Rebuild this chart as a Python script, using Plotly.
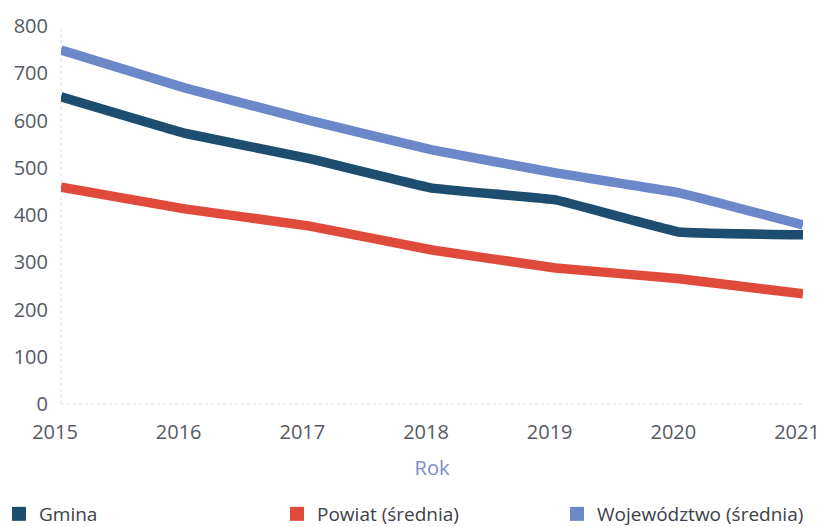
import plotly.graph_objects as go

years = [2015, 2016, 2017, 2018, 2019, 2020, 2021]
gmina = [650, 573, 520, 457, 432, 364, 358]
powiat = [459, 413, 377, 326, 288, 265, 233]
wojewodztwo = [749, 669, 601, 538, 489, 447, 379]
names = ["Gmina", "Powiat (średnia)", "Województwo (średnia)"]
colors = ["#1d4e6f", "#e04a3b", "#6c88c9"]
y_ticks = [0, 100, 200, 300, 400, 500, 600, 700, 800]

legend_ids = ["legend", "legend2", "legend3"]
legend_x_px = [-9, 269, 549]

W, H = 816, 519
ML, MR, MT, MB = 53, 21, 18, 123
pw = W - ML - MR
ph = H - MT - MB

fig = go.Figure()
for name, vals, col, lid in zip(names, [gmina, powiat, wojewodztwo], colors, legend_ids):
    fig.add_trace(go.Scatter(x=years, y=vals, mode="lines", name=name,
                             line=dict(color=col, width=9.5, shape="spline", smoothing=0.2),
                             showlegend=False, hoverinfo="skip"))
    fig.add_trace(go.Scatter(x=[None], y=[None], mode="markers", name=name,
                             marker=dict(symbol="square", size=14, color=col),
                             showlegend=True, legend=lid))

font = "Open Sans, Noto Sans, sans-serif"
legend_layout = {}
for lid, xp in zip(legend_ids, legend_x_px):
    legend_layout[lid] = dict(orientation="h", x=(xp - ML) / pw, xanchor="left",
                              y=(ph - (487 - MT)) / ph, yanchor="top",
                              font=dict(size=19, color="#3c4048"),
                              bgcolor="rgba(0,0,0,0)", itemwidth=30)

fig.update_layout(
    width=W, height=H,
    margin=dict(l=ML, r=MR, t=MT, b=MB, autoexpand=False),
    plot_bgcolor="white", paper_bgcolor="white",
    font=dict(family=font, size=18, color="#555a63"),
    xaxis=dict(range=[2015, 2021], tickvals=years, ticktext=[str(y) for y in years],
               showgrid=False, zeroline=False, showline=False, automargin=False,
               ticks="outside", ticklen=10, tickcolor="rgba(0,0,0,0)",
               ticklabeloverflow="allow", ticklabelshift=-6,
               tickfont=dict(size=20, color="#555a63"),
               title=dict(text="Rok", font=dict(size=20, color="#7b8dcc"), standoff=16)),
    yaxis=dict(range=[0, 800], tickvals=y_ticks, showgrid=False, zeroline=False,
               showline=False, automargin=False, tickfont=dict(size=20, color="#555a63"),
               ticks="outside", ticklen=8, tickcolor="rgba(0,0,0,0)"),
    shapes=[
        dict(type="line", xref="paper", yref="paper", x0=0, x1=1, y0=0, y1=0,
             line=dict(color="#d5dcea", width=1, dash="dot"), layer="below"),
        dict(type="line", xref="paper", yref="paper", x0=0, x1=0, y0=0, y1=1,
             line=dict(color="#d5dcea", width=1, dash="dot"), layer="below"),
    ],
    **legend_layout,
)
fig.write_html("out.html")
